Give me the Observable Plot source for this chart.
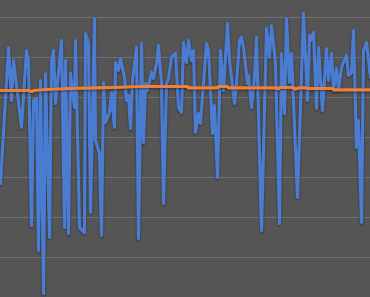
<!DOCTYPE html>
<html>
<head>
<meta charset="utf-8">
<script src="https://cdn.jsdelivr.net/npm/d3@7"></script>
<script src="https://cdn.jsdelivr.net/npm/@observablehq/plot@0.6"></script>
<style>
  html, body { margin: 0; padding: 0; background: #555555; }
  #chart svg { display: block; }
</style>
</head>
<body>
<div id="chart"></div>
<script>
const blueX = [0,8,11,13,21,26,28,31,33,36,38,40,43,45,49,51,53,55,61,64,65,68,70,74,75,79,84,85,88,90,94,95,99,101,103,105,109,111,114,115,118,120,124,126,128,130,132,136,138,141,143,145,147,151,153,156,158,161,163,166,168,171,175,178,181,183,186,188,191,193,195,198,200,206,208,212,214,217,220,223,227,229,234,236,239,241,243,247,248,251,254,256,261,266,269,271,275,279,281,284,286,289,291,297,303,307,309,310,313,316,318,322,326,328,331,333,336,338,341,343,346,348,351,353,356,358,361,363,366,370];
const blueY = [28.5,62.5,49.25,59.25,42.5,61.75,59.25,18,49.25,49.75,11.75,54.25,1,56,15,59.25,61.75,48.5,64.25,17.5,59.25,16,56,47.5,64.25,17.5,16.25,66,63.5,21.25,69.75,39.25,36,15.5,53.75,43.75,46.25,51.25,42.5,58.75,56.75,59.75,55,49.25,50.5,42.25,54.25,62.5,14.75,63.5,38.75,53.5,51.75,56.25,54.75,58.5,63,53.5,23.5,53.5,54.75,60,61,47.5,46.25,63.75,58.75,64.25,59.25,61.75,41.25,46,43.5,63.5,61.75,41,48,30,61.75,51.75,68.5,59.25,48.5,53.5,64.25,65,62.5,53.5,55.5,47.5,55,65,16.75,67.25,60,68,58.5,18.5,61,46,69.75,53.75,61,25,71,49.25,65.5,64.25,66.25,47.25,62.5,46.75,62.25,54.25,61,51.75,57.25,51.75,57.5,58.75,60.5,55.5,56.25,66.75,37.5,44.25,18.75,61.75,63.75,55];

const orangeX = [0,28,31,34,45,70,95,115,140,187,188,217,218,227,228,275,278,279,292,295,298,305,307,332,334,370];
const orangeY = [51.75,51.75,51.5,51.75,52,52.25,52.4,52.5,52.75,52.75,52.4,52.4,52.75,52.75,52.4,52.4,52.2,52.5,52.5,52.1,52.4,52.4,52.25,52.25,51.9,51.9];

const gridTicks = [10,20,30,40,50,60,70];

const blue = blueX.map((x, i) => ({x, y: blueY[i]}));
const orange = orangeX.map((x, i) => ({x, y: orangeY[i]}));

const chart = Plot.plot({
  width: 370,
  height: 297,
  margin: 0,
  style: {background: "#555555", overflow: "hidden"},
  x: {domain: [0, 370], axis: null},
  y: {domain: [0, 74.25], axis: null},
  marks: [
    Plot.ruleY(gridTicks, {stroke: "#727272", strokeWidth: 1}),
    Plot.line(blue, {x: "x", y: "y", stroke: "#4a7cd2", strokeWidth: 3.2, strokeLinejoin: "round", strokeLinecap: "round"}),
    Plot.line(orange, {x: "x", y: "y", stroke: "#f07f3a", strokeWidth: 3.2, strokeLinejoin: "round"})
  ]
});
d3.select(chart).selectAll("g[aria-label='line'] path")
  .attr("filter", "drop-shadow(0px 1px 1px rgba(0,0,0,0.45))");
document.getElementById("chart").appendChild(chart);
</script>
</body>
</html>
